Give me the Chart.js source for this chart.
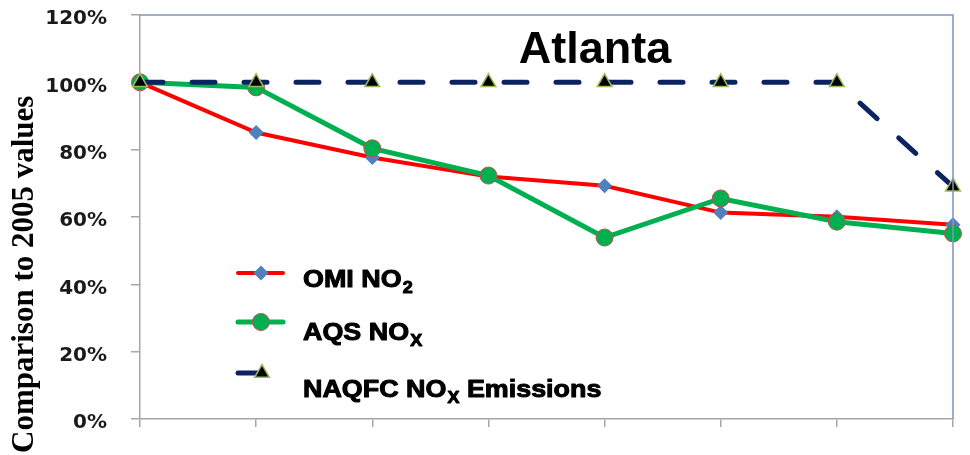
<!DOCTYPE html>
<html>
<head>
<meta charset="utf-8">
<script src="https://cdn.jsdelivr.net/npm/chart.js@4.4.1/dist/chart.umd.min.js"></script>
<style>
  html, body { margin: 0; padding: 0; background: #fff; }
  #wrap { width: 970px; height: 455px; position: relative; }
</style>
</head>
<body>
<div id="wrap"><canvas id="noxChart"></canvas></div>
<script>
// Atlanta NOx trends, relative to 2005
const years = ['2005', '2006', '2007', '2008', '2009', '2010', '2011', '2012'];
const omiNO2 = [100, 85.1, 77.7, 72.0, 69.3, 61.3, 60.1, 57.7];
const aqsNOx = [100, 98.5, 80.4, 72.3, 53.9, 65.5, 58.6, 55.1];
const naqfcNOx = [100, 100, 100, 100, 100, 100, 100, 69];
const yTicks = [0, 20, 40, 60, 80, 100, 120];

// legend text split into main / subscript / tail
const legendNames = [
  ['OMI NO', '2', ''],
  ['AQS NO', 'X', ''],
  ['NAQFC NO', 'X', ' Emissions']
];

const AXIS_GREY = '#A6A6A6';
const FRAME_BLUE = '#8093C0';

const overlay = {
  id: 'overlay',
  afterDraw(chart) {
    const { ctx, chartArea: ca } = chart;
    ctx.save();

    // top and right frame lines
    ctx.strokeStyle = FRAME_BLUE;
    ctx.lineWidth = 1.5;
    ctx.beginPath();
    ctx.moveTo(ca.left, ca.top);
    ctx.lineTo(ca.right, ca.top);
    ctx.lineTo(ca.right, ca.bottom);
    ctx.stroke();

    // city title
    ctx.fillStyle = '#000';
    ctx.font = 'bold 45px "Liberation Sans", Arial, sans-serif';
    ctx.textAlign = 'center';
    ctx.textBaseline = 'alphabetic';
    ctx.fillText('Atlanta', 595, 63);

    // vertical axis title
    ctx.save();
    ctx.translate(33, 453);
    ctx.rotate(-Math.PI / 2);
    ctx.font = 'bold 31px "Liberation Serif", "Times New Roman", serif';
    ctx.textAlign = 'left';
    ctx.fillText('Comparison to 2005 values', 0, 0);
    ctx.restore();

    // legend
    const rows = [
      { lineY: 273, markX: 261, baseY: 287, lineEnd: 283 },
      { lineY: 322, markX: 261, baseY: 340, lineEnd: 283 },
      { lineY: 373, markX: 262, baseY: 397, lineEnd: 258 }
    ];
    const sx = 1.12;
    chart.data.datasets.forEach((ds, i) => {
      const r = rows[i];
      ctx.strokeStyle = ds.borderColor;
      ctx.lineWidth = ds.borderWidth;
      ctx.lineCap = 'round';
      ctx.beginPath();
      ctx.moveTo(238, r.lineY);
      ctx.lineTo(r.lineEnd, r.lineY);
      ctx.stroke();

      ctx.fillStyle = ds.pointBackgroundColor;
      ctx.strokeStyle = ds.pointBorderColor;
      ctx.lineWidth = ds.pointBorderWidth;
      Chart.helpers.drawPoint(ctx, {
        pointStyle: ds.pointStyle,
        radius: ds.pointRadius,
        borderWidth: ds.pointBorderWidth,
        rotation: 0
      }, r.markX, r.lineY);

      const [main, sub, tail] = legendNames[i];
      ctx.save();
      ctx.translate(303, r.baseY);
      ctx.scale(sx, 1);
      ctx.fillStyle = '#000';
      ctx.strokeStyle = '#000';
      ctx.lineWidth = 1;
      ctx.lineCap = 'butt';
      ctx.lineJoin = 'round';
      ctx.textAlign = 'left';
      ctx.font = 'bold 24px "Liberation Sans", Arial, sans-serif';
      ctx.fillText(main, 0, 0);
      ctx.strokeText(main, 0, 0);
      let x = ctx.measureText(main).width + 1;
      ctx.font = 'bold 16px "Liberation Sans", Arial, sans-serif';
      ctx.fillText(sub, x, 6);
      ctx.strokeText(sub, x, 6);
      x += ctx.measureText(sub).width;
      if (tail) {
        ctx.font = 'bold 24px "Liberation Sans", Arial, sans-serif';
        ctx.fillText(tail, x, 0);
        ctx.strokeText(tail, x, 0);
      }
      ctx.restore();
    });

    ctx.restore();
  }
};

new Chart(document.getElementById('noxChart'), {
  type: 'line',
  data: {
    labels: years,
    datasets: [
      {
        label: 'OMI NO₂',
        data: omiNO2,
        order: 3,
        borderColor: '#FF0000',
        borderWidth: 4,
        pointStyle: 'rectRot',
        pointRadius: 7.5,
        pointBackgroundColor: '#4F81BD',
        pointBorderColor: '#4F81BD',
        pointBorderWidth: 0,
        tension: 0,
        clip: false
      },
      {
        label: 'AQS NOx',
        data: aqsNOx,
        order: 2,
        borderColor: '#00B050',
        borderWidth: 5,
        pointStyle: 'circle',
        pointRadius: 8.5,
        pointBackgroundColor: '#00B050',
        pointBorderColor: '#C0504D',
        pointBorderWidth: 1,
        tension: 0,
        clip: false
      },
      {
        label: 'NAQFC NOx Emissions',
        data: naqfcNOx,
        order: 1,
        borderColor: '#0B2360',
        borderWidth: 5,
        borderDash: [23, 29],
        borderCapStyle: 'round',
        pointStyle: 'triangle',
        pointRadius: 8.5,
        pointBackgroundColor: '#000000',
        pointBorderColor: '#9BBB59',
        pointBorderWidth: 1.5,
        tension: 0,
        clip: false
      }
    ]
  },
  options: {
    responsive: true,
    maintainAspectRatio: false,
    animation: false,
    devicePixelRatio: 1,
    layout: { padding: { top: 15, right: 17, left: 0, bottom: 0 } },
    plugins: {
      legend: { display: false },
      tooltip: { enabled: false },
      title: { display: false }
    },
    scales: {
      x: {
        offset: false,
        grid: {
          drawOnChartArea: false,
          drawTicks: true,
          tickLength: 8,
          color: AXIS_GREY,
          lineWidth: 1.5
        },
        border: { color: AXIS_GREY, width: 1.5 },
        ticks: { display: false },
        afterFit(scale) {
          scale.height = 36;
          scale.paddingLeft = 0;
          scale.paddingRight = 0;
        }
      },
      y: {
        min: 0,
        max: 120,
        afterBuildTicks(scale) {
          scale.ticks = yTicks.map(v => ({ value: v }));
        },
        grid: {
          drawOnChartArea: false,
          drawTicks: true,
          tickLength: 9,
          color: AXIS_GREY,
          lineWidth: 1.5
        },
        border: { color: AXIS_GREY, width: 1.5 },
        ticks: {
          callback: v => v + '%',
          padding: 24,
          labelOffset: 4,
          color: '#1A1A1A',
          font: { family: '"DejaVu Sans", Verdana, sans-serif', size: 20, weight: 'bold' }
        },
        afterFit(scale) {
          scale.width = 140;
          scale.paddingTop = 0;
          scale.paddingBottom = 0;
        }
      }
    }
  },
  plugins: [overlay]
});
</script>
</body>
</html>
